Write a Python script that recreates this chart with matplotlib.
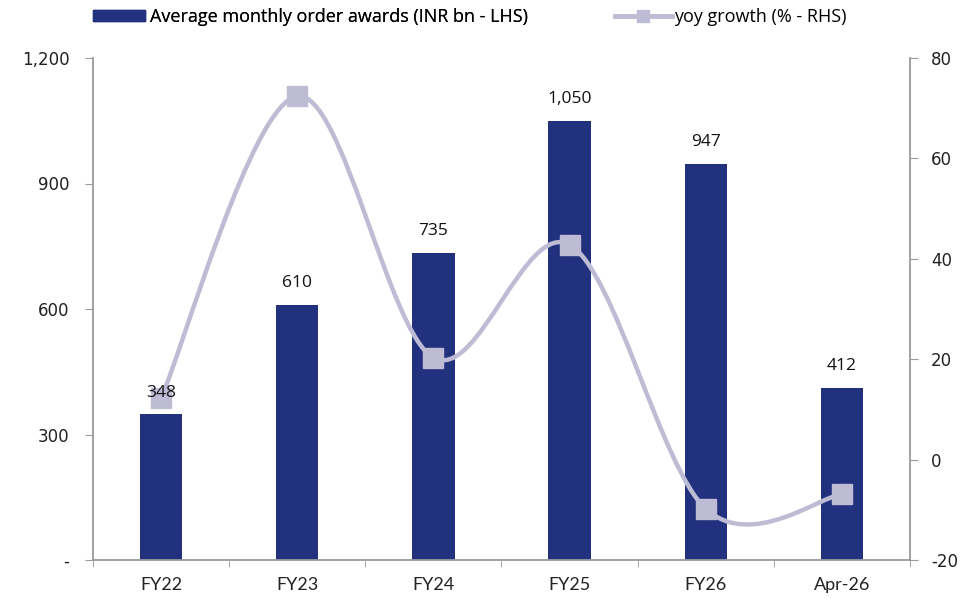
import matplotlib
matplotlib.use("Agg")
import matplotlib.pyplot as plt
from matplotlib.path import Path
from matplotlib.patches import PathPatch, Patch
from matplotlib.lines import Line2D
import numpy as np

categories = ["FY22", "FY23", "FY24", "FY25", "FY26", "Apr-26"]
awards = [348, 610, 735, 1050, 947, 412]
award_labels = ["348", "610", "735", "1,050", "947", "412"]
yoy = [12.3, 72.4, 20.3, 42.8, -9.8, -6.9]
left_ticks = [0, 300, 600, 900, 1200]
left_ticklabels = ["-", "300", "600", "900", "1,200"]
right_ticks = [-20, 0, 20, 40, 60, 80]

BAR = "#21317E"
LINE = "#BDBCD4"
AX = "#9A9A9A"

W, H = 974, 598
fig = plt.figure(figsize=(W/100, H/100), dpi=100)
ax = fig.add_axes([93/W, 1-560/H, (910-93)/W, (560-58)/H])
x = np.arange(len(categories))
ax.bar(x, awards, width=0.31, color=BAR, zorder=2)
ax.set_xlim(-0.5, len(categories)-0.5)
ax.set_ylim(0, 1200)
ax.set_yticks(left_ticks)
ax.set_yticklabels(left_ticklabels, fontsize=12, family="DejaVu Sans", color="#222222")
ax.set_xticks(x)
ax.set_xticklabels(categories, fontsize=13, family="Lato", color="#222222")
ax.set_xticks(np.arange(-0.5, len(categories)), minor=True)
ax.tick_params(axis="x", which="major", length=0, pad=12)
ax.tick_params(axis="x", which="minor", length=5, color=AX, direction="out")
ax.tick_params(axis="y", length=6, color=AX, direction="out", pad=11)
for s in ["top", "right"]:
    ax.spines[s].set_visible(False)
for s in ["left", "bottom"]:
    ax.spines[s].set_color(AX)
    ax.spines[s].set_linewidth(1.3)

ax2 = ax.twinx()
ax2.set_ylim(-20, 80)
ax2.set_yticks(right_ticks)
ax2.set_yticklabels([str(v) for v in right_ticks], fontsize=12, family="DejaVu Sans", color="#222222")
ax2.tick_params(axis="y", length=6, color=AX, direction="out", pad=9)
for s in ["top", "left", "bottom"]:
    ax2.spines[s].set_visible(False)
ax2.spines["right"].set_color(AX)
ax2.spines["right"].set_linewidth(1.3)

# smoothed line (Catmull-Rom style bezier, like Excel smoothing)
pts = np.column_stack([x, yoy]).astype(float)
n = len(pts)
verts = [tuple(pts[0])]
codes = [Path.MOVETO]
for i in range(n-1):
    p0 = pts[i-1] if i > 0 else pts[i]
    p1 = pts[i]
    p2 = pts[i+1]
    p3 = pts[i+2] if i+2 < n else pts[i+1]
    c1 = p1 + (p2 - p0)/6
    c2 = p2 - (p3 - p1)/6
    verts += [tuple(c1), tuple(c2), tuple(p2)]
    codes += [Path.CURVE4]*3
path = Path(verts, codes)
ax2.add_patch(PathPatch(path, facecolor="none", edgecolor=LINE, lw=3.2, capstyle="round", zorder=3))
ax2.plot(x, yoy, linestyle="none", marker="s", markersize=14, color=LINE, zorder=4)

for xi, v, lab in zip(x, awards, award_labels):
    ax2.annotate(lab, (xi, v), xycoords=ax.transData, xytext=(0, 10), textcoords="offset points",
                 ha="center", va="bottom", fontsize=12.5, family="Open Sans", color="#111111", zorder=5)

prop = {"family": "Open Sans", "size": 13}
leg1 = fig.legend([Patch(facecolor=BAR, edgecolor=BAR)],
                  ["Average monthly order awards (INR bn - LHS)"],
                  loc="center left", bbox_to_anchor=(93/W, 1-17/H), frameon=False, prop=prop,
                  handlelength=2.88, handleheight=0.55, handletextpad=0.28, borderpad=0, borderaxespad=0)
leg2 = fig.legend([Line2D([0], [0], color=LINE, lw=3.5, marker="s", markersize=8)],
                  ["yoy growth (% - RHS)"],
                  loc="center left", bbox_to_anchor=(615/W, 1-17/H), frameon=False, prop=prop,
                  handlelength=3.15, handletextpad=0.1, borderpad=0, borderaxespad=0)
fig.add_artist(leg1)

fig.savefig("out.png", dpi=100)
